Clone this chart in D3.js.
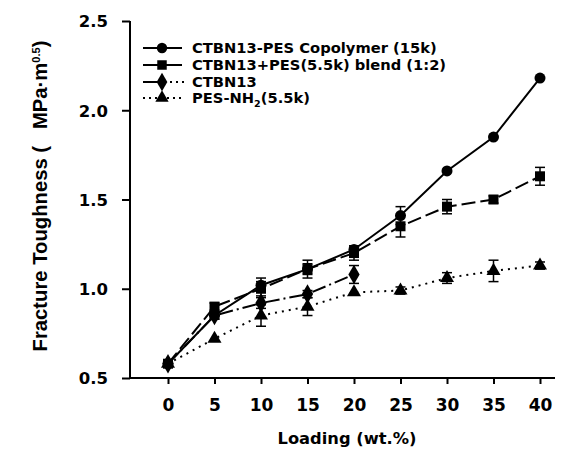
<!DOCTYPE html>
<html>
<head>
<meta charset="utf-8">
<script src="https://cdn.jsdelivr.net/npm/d3@7"></script>
<style>
  body { margin: 0; background: #fff; }
  text { font-family: "DejaVu Sans", sans-serif; font-weight: bold; fill: #000; }
</style>
</head>
<body>
<div id="chart"></div>
<script>
const loading = [0, 5, 10, 15, 20, 25, 30, 35, 40];
const copolymer = [0.58, 0.85, 1.02, 1.11, 1.22, 1.41, 1.66, 1.85, 2.18];
const copolymerErr = [0.01, 0.02, 0.04, 0.03, 0.02, 0.05, 0.01, 0.01, 0.01];
const blend = [0.58, 0.90, 1.00, 1.11, 1.20, 1.35, 1.46, 1.50, 1.63];
const blendErr = [0.01, 0.02, 0.04, 0.05, 0.04, 0.06, 0.04, 0.02, 0.05];
const ctbn = [0.58, 0.85, 0.92, 0.97, 1.08];
const ctbnErr = [0.01, 0.02, 0.03, 0.02, 0.05];
const pesNh2 = [0.58, 0.72, 0.85, 0.90, 0.98, 0.99, 1.06, 1.10, 1.13];
const pesNh2Err = [0.01, 0.01, 0.06, 0.05, 0.01, 0.02, 0.03, 0.06, 0.02];
const yTicks = [0.5, 1.0, 1.5, 2.0, 2.5];

const w = 572, h = 454;
const svg = d3.select('#chart').append('svg').attr('width', w).attr('height', h);

const x = d3.scaleLinear().domain([0, 40]).range([168, 540]);
const y = d3.scaleLinear().domain([0.5, 2.5]).range([378, 21]);

// scale a text's font so its width matches the reference
function fitWidth(sel, base, target) {
  const len = sel.node().getComputedTextLength();
  sel.style('font-size', (base * target / len) + 'px');
}

// axes
const xAxis = d3.axisBottom(x).tickValues(loading).tickSize(6).tickSizeOuter(0).tickFormat(d3.format('d'));
const gx = svg.append('g').attr('transform', 'translate(0,378)').call(xAxis);
gx.select('.domain').remove();
gx.append('line').attr('x1', 129).attr('x2', 555).attr('stroke', '#000').attr('stroke-width', 2);
gx.selectAll('.tick line').attr('stroke-width', 2);
gx.selectAll('.tick text').attr('dy', 0).attr('y', 33)
  .style('font-size', '17px').style('font-family', 'DejaVu Sans').style('font-weight', 'bold');

const yAxis = d3.axisLeft(y).tickValues(yTicks).tickSize(8).tickSizeOuter(0).tickFormat(d3.format('.1f'));
const gy = svg.append('g').attr('transform', 'translate(130,0)').call(yAxis);
gy.select('.domain').remove();
gy.append('line').attr('y1', 21).attr('y2', 379).attr('stroke', '#000').attr('stroke-width', 2);
gy.selectAll('.tick line').attr('stroke-width', 2);
gy.selectAll('.tick text').attr('x', -22).attr('dy', '0.36em')
  .style('font-size', '16.5px').style('font-family', 'DejaVu Sans').style('font-weight', 'bold');

const xt = svg.append('text').attr('x', 347).attr('y', 444).attr('text-anchor', 'middle')
  .style('font-size', '16px').text('Loading (wt.%)');
fitWidth(xt, 16, 139);

const yt = svg.append('text').attr('transform', 'translate(47,196) rotate(-90)').attr('text-anchor', 'middle')
  .style('font-size', '16px').style('font-family', 'Liberation Sans, Arial');
yt.append('tspan').text('Fracture Toughness (\u00a0\u00a0\u00a0MPa\u00b7m');
yt.append('tspan').attr('dy', -7).style('font-size', '11px').text('0.5');
yt.append('tspan').attr('dy', 7).text(')');
fitWidth(yt, 16, 315);

// series
const series = [
  { name: 'copolymer', vals: copolymer, err: copolymerErr, dash: null, shape: d3.symbolCircle, size: 95 },
  { name: 'blend', vals: blend, err: blendErr, dash: '14,5', shape: d3.symbolSquare, size: 100 },
  { name: 'ctbn', vals: ctbn, err: ctbnErr, dash: '14,4,2,4', shape: d3.symbolDiamond, size: 110 },
  { name: 'pes', vals: pesNh2, err: pesNh2Err, dash: '2,5', shape: d3.symbolTriangle, size: 85 }
];

const line = d3.line().x((d, i) => x(loading[i])).y(d => y(d));

series.forEach(s => {
  const g = svg.append('g');
  g.append('path').datum(s.vals).attr('d', line).attr('fill', 'none').attr('stroke', '#000')
    .attr('stroke-width', 2).attr('stroke-dasharray', s.dash);
  s.vals.forEach((v, i) => {
    const cx = x(loading[i]);
    const e = s.err[i];
    if (e > 0.015) {
      g.append('line').attr('x1', cx).attr('x2', cx).attr('y1', y(v - e)).attr('y2', y(v + e)).attr('stroke', '#000').attr('stroke-width', 1.5);
      [v - e, v + e].forEach(b => {
        g.append('line').attr('x1', cx - 5).attr('x2', cx + 5).attr('y1', y(b)).attr('y2', y(b)).attr('stroke', '#000').attr('stroke-width', 1.5);
      });
    }
    g.append('path').attr('d', d3.symbol().type(s.shape).size(s.size)())
      .attr('transform', `translate(${cx},${y(v)})`).attr('fill', '#000');
  });
});

// legend
const legendNames = ['CTBN13-PES Copolymer (15k)', 'CTBN13+PES(5.5k) blend (1:2)', 'CTBN13', 'PES-NH'];
const legendY = [48, 65, 82, 98];
let legendSize = 13.5;
series.forEach((s, i) => {
  const ly = legendY[i];
  const lg = svg.append('g');
  if (i < 2) {
    lg.append('line').attr('x1', 143).attr('x2', 182).attr('y1', ly).attr('y2', ly).attr('stroke', '#000').attr('stroke-width', 2);
  } else if (i === 2) {
    lg.append('line').attr('x1', 143).attr('x2', 163).attr('y1', ly).attr('y2', ly).attr('stroke', '#000').attr('stroke-width', 2);
    lg.append('line').attr('x1', 170).attr('x2', 184).attr('y1', ly).attr('y2', ly).attr('stroke', '#000').attr('stroke-width', 2).attr('stroke-dasharray', '2,4');
  } else {
    lg.append('line').attr('x1', 143).attr('x2', 184).attr('y1', ly).attr('y2', ly).attr('stroke', '#000').attr('stroke-width', 2).attr('stroke-dasharray', '2,4');
  }
  lg.append('path').attr('d', d3.symbol().type(s.shape).size(s.size * 0.9)())
    .attr('transform', `translate(162,${ly})`).attr('fill', '#000');
  const t = lg.append('text').attr('x', 192).attr('y', ly + 5).style('font-size', legendSize + 'px');
  t.append('tspan').text(legendNames[i]);
  if (i === 0) {
    fitWidth(t, 13.5, 245);
    legendSize = parseFloat(t.style('font-size'));
  }
  if (i === 3) {
    t.append('tspan').attr('dy', 4).style('font-size', (legendSize * 0.65) + 'px').text('2');
    t.append('tspan').attr('dy', -4).text('(5.5k)');
  }
});
</script>
</body>
</html>
